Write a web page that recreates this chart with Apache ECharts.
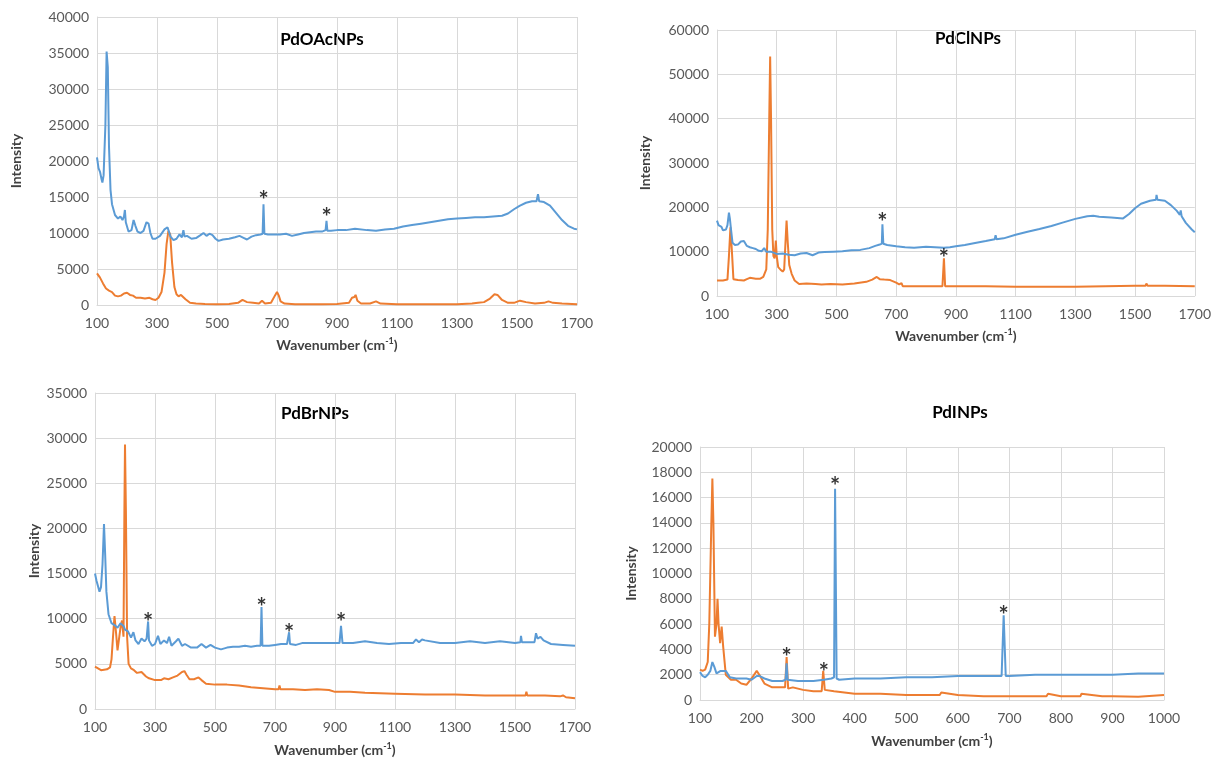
<!DOCTYPE html>
<html>
<head>
<meta charset="utf-8">
<script src="https://cdn.jsdelivr.net/npm/echarts@6/dist/echarts.min.js"></script>
<style>
  html, body { margin: 0; padding: 0; background: #fff; }
  #chart { width: 1214px; height: 761px; }
</style>
</head>
<body>
<div id="chart"></div>
<script>
// panel titles
const titles = ['PdOAcNPs', 'PdClNPs', 'PdBrNPs', 'PdINPs']

// PdOAcNPs
const oacBlue = [[100,20500],[105,19000],[110,18500],[115,17500],[118,17000],[122,18000],[128,25000],[132,35200],[136,33000],[140,22000],[145,16000],[150,14000],[155,14200],[160,12500],[170,12000],[178,12300],[185,11800],[190,12300],[193,13200],[196,11500],[205,10200],[215,10400],[222,11800],[228,11000],[235,10200],[245,10000],[255,10300],[265,11500],[272,11300],[278,10000],[285,9200],[295,9200],[310,9600],[325,10500],[335,10800],[345,9500],[355,9000],[365,9200],[375,9800],[383,9400],[388,10400],[392,9500],[400,9600],[415,9200],[430,9300],[445,9700],[455,10000],[465,9600],[475,9900],[485,9700],[495,9200],[505,8900],[520,9100],[540,9200],[560,9400],[575,9600],[590,9300],[600,9100],[615,9500],[630,9700],[645,9800],[652,9900],[655,14000],[658,9900],[670,9800],[690,9800],[710,9800],[730,9900],[750,9600],[770,9800],[790,10000],[810,10100],[830,10200],[850,10200],[862,10400],[865,11700],[868,10300],[880,10300],[900,10400],[930,10400],[960,10600],[1000,10400],[1030,10300],[1060,10500],[1090,10600],[1120,10900],[1150,11100],[1180,11300],[1210,11500],[1240,11700],[1270,11900],[1300,12000],[1330,12100],[1360,12200],[1390,12200],[1420,12300],[1450,12400],[1470,12700],[1490,13300],[1510,13800],[1530,14200],[1550,14400],[1565,14400],[1570,15400],[1574,14400],[1590,14300],[1610,13800],[1630,12800],[1650,11800],[1670,11000],[1690,10600],[1700,10500]]
const oacOrange = [[100,4400],[110,3800],[120,3000],[130,2300],[140,2000],[150,1800],[160,1300],[170,1200],[180,1300],[190,1600],[200,1700],[210,1400],[220,1300],[230,1000],[245,1000],[260,900],[275,1000],[285,800],[295,700],[305,1000],[315,1800],[325,4500],[332,8500],[338,10300],[344,9800],[350,6000],[358,2500],[365,1500],[372,1200],[380,1400],[385,1300],[395,800],[410,300],[430,200],[460,150],[500,100],[540,150],[570,300],[585,700],[600,400],[620,300],[640,200],[650,600],[660,200],[680,300],[693,1300],[700,1800],[706,1300],[712,500],[725,200],[760,100],[800,100],[850,100],[900,150],[940,300],[950,1000],[958,1100],[962,1400],[968,600],[980,200],[1010,200],[1030,500],[1045,200],[1100,100],[1200,100],[1300,100],[1350,200],[1370,300],[1390,400],[1410,900],[1425,1500],[1435,1400],[1450,700],[1470,300],[1490,300],[1510,600],[1530,400],[1560,200],[1590,300],[1605,500],[1620,300],[1650,200],[1700,100]]
const oacStars = [[655,14350],[865,12050]]

// PdClNPs
const clBlue = [[100,17000],[105,16000],[110,15800],[115,15600],[120,14800],[125,14500],[130,15000],[135,16000],[140,18800],[143,17500],[147,15000],[152,12000],[160,11500],[170,11600],[180,12300],[185,12600],[190,12400],[200,11300],[210,11000],[220,10800],[230,10600],[240,10200],[250,10100],[258,10800],[265,10000],[280,10000],[300,9500],[320,9600],[340,9300],[360,9200],[380,9600],[400,9700],[420,9200],[440,9800],[460,9900],[490,10000],[520,10100],[550,10300],[580,10400],[610,10800],[630,11300],[645,11600],[652,11800],[654,16200],[657,11800],[670,11500],[700,11200],[730,11000],[760,10900],[800,11100],[830,11000],[860,10900],[880,11000],[900,11200],[930,11500],[960,11900],[1000,12400],[1030,12800],[1033,13700],[1036,12800],[1060,13000],[1100,13800],[1140,14500],[1180,15100],[1220,15800],[1260,16600],[1300,17400],[1340,18000],[1360,18100],[1380,17900],[1420,17700],[1460,17500],[1480,18500],[1500,19800],[1520,20800],[1550,21500],[1570,21700],[1572,22800],[1575,21700],[1600,21500],[1620,20500],[1640,19200],[1650,18300],[1653,19300],[1656,18000],[1670,16500],[1690,15000],[1700,14400]]
const clOrange = [[100,3500],[120,3500],[135,3700],[140,9000],[145,15500],[150,10000],[155,3800],[170,3600],[190,3500],[200,3800],[210,4100],[230,3900],[245,3900],[255,4300],[265,6000],[270,15000],[275,40000],[278,54000],[281,40000],[285,15000],[289,9000],[293,8500],[297,12500],[300,9000],[305,6500],[312,6000],[320,5500],[325,6000],[330,13000],[333,17000],[337,12000],[342,7000],[350,5000],[360,3500],[375,2700],[400,2800],[430,2700],[450,2600],[480,2700],[520,2600],[560,2800],[600,3200],[620,3700],[635,4300],[645,3800],[660,3700],[680,3600],[700,3000],[710,2600],[715,2200],[718,2900],[722,2200],[760,2200],[800,2200],[855,2200],[860,8500],[864,2200],[900,2200],[1000,2200],[1100,2100],[1200,2100],[1300,2100],[1400,2200],[1500,2300],[1535,2300],[1538,2800],[1542,2300],[1600,2300],[1700,2200]]
const clStars = [[654,16300],[860,8300]]

// PdBrNPs
const brBlue = [[100,15000],[105,14200],[110,14000],[115,13000],[120,13500],[125,16000],[130,20500],[134,17000],[138,13000],[145,10500],[155,9500],[165,9300],[175,9000],[185,9500],[195,9200],[200,8800],[210,8600],[220,7900],[228,8500],[235,7600],[245,7200],[255,7800],[265,7500],[272,7800],[277,9700],[280,7600],[290,7000],[300,7200],[310,8100],[318,7200],[330,7600],[340,7300],[347,8000],[355,7000],[370,7500],[378,7800],[390,7000],[400,7200],[420,6800],[440,6800],[455,7200],[470,6800],[485,7100],[500,6800],[520,6600],[540,6800],[560,6900],[580,6900],[600,7000],[620,6900],[640,7000],[652,7000],[655,11300],[658,7000],[680,7000],[700,7100],[720,7200],[740,7200],[747,8500],[750,7200],[770,7100],[790,7300],[830,7300],[870,7300],[915,7300],[920,9200],[925,7300],[960,7300],[1000,7500],[1040,7300],[1080,7200],[1120,7300],[1160,7300],[1170,7700],[1180,7400],[1190,7700],[1200,7600],[1250,7300],[1300,7300],[1350,7500],[1400,7300],[1450,7500],[1500,7300],[1518,7400],[1520,8100],[1523,7400],[1550,7400],[1565,7400],[1570,8400],[1575,7800],[1585,8000],[1595,7600],[1620,7200],[1660,7100],[1700,7000]]
const brOrange = [[100,4700],[110,4500],[120,4300],[140,4400],[150,4600],[155,5500],[160,8000],[165,10300],[170,8500],[175,6500],[180,6500],[185,9000],[190,9800],[195,8000],[198,22000],[200,29300],[203,22000],[207,8000],[212,5000],[220,4500],[230,4300],[240,4000],[255,4100],[260,4200],[270,3600],[280,3400],[300,3200],[320,3200],[330,3400],[345,3300],[360,3500],[375,3700],[390,4100],[398,4200],[405,3800],[415,3300],[430,3300],[445,3500],[455,3200],[470,2800],[500,2700],[540,2700],[580,2600],[620,2400],[660,2300],[700,2200],[712,2200],[715,2600],[718,2200],[760,2200],[800,2100],[840,2200],[880,2100],[900,1900],[950,1900],[1000,1800],[1100,1700],[1200,1600],[1300,1600],[1400,1500],[1500,1500],[1535,1500],[1538,1900],[1541,1500],[1600,1500],[1650,1400],[1660,1500],[1670,1300],[1700,1200]]
const brStars = [[277,9500],[655,11200],[747,8300],[920,9500]]

// PdINPs
const iBlue = [[100,2200],[105,1900],[110,1800],[115,2000],[120,2300],[124,3000],[128,2600],[132,2100],[140,2300],[150,2300],[158,1800],[170,1700],[190,1700],[200,1600],[210,1900],[215,1900],[225,1700],[240,1500],[260,1500],[266,1600],[268,2900],[270,1600],[290,1500],[320,1500],[340,1600],[355,1700],[360,1800],[362,16700],[365,1700],[370,1600],[400,1700],[450,1700],[500,1800],[550,1800],[600,1900],[650,1900],[685,1900],[689,6700],[693,1900],[700,1900],[750,2000],[800,2000],[850,2000],[900,2000],[950,2100],[1000,2100]]
const iOrange = [[100,2400],[105,2300],[110,2400],[115,3000],[118,6000],[122,14000],[124,17500],[126,14000],[129,5000],[132,6000],[134,8000],[136,6000],[139,4500],[142,5800],[145,4200],[150,2000],[160,1600],[170,1600],[180,1300],[190,1200],[200,1700],[210,2300],[215,2000],[225,1300],[240,1000],[255,1000],[265,1000],[268,3400],[271,900],[280,1000],[300,800],[320,700],[336,700],[339,2300],[342,800],[360,700],[400,500],[450,500],[500,400],[550,400],[565,400],[568,600],[600,400],[650,300],[700,300],[772,300],[775,500],[800,300],[838,300],[840,500],[880,300],[900,300],[950,250],[1000,400]]
const iStars = [[268,3300],[340,2100],[362,16800],[689,6600]]

const blueData = [oacBlue, clBlue, brBlue, iBlue]
const orangeData = [oacOrange, clOrange, brOrange, iOrange]
const starData = [oacStars, clStars, brStars, iStars]

// plot layout of the four panels
const grids = [
  { left: 97, top: 17, width: 480, height: 288 },
  { left: 717, top: 30, width: 481, height: 266 },
  { left: 95, top: 393, width: 480, height: 316 },
  { left: 700, top: 447, width: 464, height: 253 }
]
const xRanges = [[100, 1700, 200], [100, 1700, 200], [100, 1700, 200], [100, 1000, 100]]
const yRanges = [[0, 40000, 5000], [0, 60000, 10000], [0, 35000, 5000], [0, 20000, 2000]]
const titlePos = [[322, 40], [968, 39], [315, 414], [960, 413]]
const yNameGap = [74, 65, 54, 62]
const xNameGap = [32, 32, 33, 33]

const FONT = 'Lato, "Open Sans", sans-serif'
const gridColor = '#d9d9d9'
const labelColor = '#595959'

const chart = echarts.init(document.getElementById('chart'))

const xAxes = grids.map((g, i) => ({
  type: 'value',
  gridIndex: i,
  min: xRanges[i][0],
  max: xRanges[i][1],
  interval: xRanges[i][2],
  name: '{a|Wavenumber (cm}{s|-1}{a|)}',
  nameLocation: 'middle',
  nameGap: xNameGap[i],
  nameTextStyle: {
    rich: {
      a: { fontFamily: FONT, fontSize: 14, fontWeight: 'bold', color: '#404040' },
      s: { fontFamily: FONT, fontSize: 9, fontWeight: 'bold', color: '#404040', padding: [0, 0, 8, 0] }
    }
  },
  axisLine: { show: true, lineStyle: { color: gridColor, width: 1 } },
  axisTick: { show: false },
  axisLabel: { color: labelColor, fontFamily: FONT, fontSize: 14, margin: 11, formatter: v => String(v) },
  splitLine: { show: true, lineStyle: { color: gridColor, width: 1 } }
}))

const yAxes = grids.map((g, i) => ({
  type: 'value',
  gridIndex: i,
  min: yRanges[i][0],
  max: yRanges[i][1],
  interval: yRanges[i][2],
  name: 'Intensity',
  nameLocation: 'middle',
  nameGap: yNameGap[i],
  nameTextStyle: { fontFamily: FONT, fontSize: 14, fontWeight: 'bold', color: '#404040' },
  axisLine: { show: true, lineStyle: { color: gridColor, width: 1 } },
  axisTick: { show: false },
  axisLabel: { color: labelColor, fontFamily: FONT, fontSize: 14, margin: 8, formatter: v => String(v) },
  splitLine: { show: true, lineStyle: { color: gridColor, width: 1 } }
}))

const series = []
grids.forEach((g, i) => {
  series.push({
    type: 'line',
    xAxisIndex: i,
    yAxisIndex: i,
    data: blueData[i],
    showSymbol: false,
    lineStyle: { color: '#5b9bd5', width: 2 },
    z: 3
  })
  series.push({
    type: 'line',
    xAxisIndex: i,
    yAxisIndex: i,
    data: orangeData[i],
    showSymbol: false,
    lineStyle: { color: '#ed7d31', width: 2 },
    z: 2
  })
  // asterisks marking peaks
  series.push({
    type: 'scatter',
    xAxisIndex: i,
    yAxisIndex: i,
    data: starData[i],
    symbolSize: 1,
    itemStyle: { color: 'rgba(0,0,0,0)' },
    label: {
      show: true,
      position: 'inside',
      formatter: '*',
      fontFamily: FONT,
      fontSize: 24,
      fontWeight: 'bold',
      color: '#000'
    },
    z: 4
  })
})

const graphics = titles.map((t, i) => ({
  type: 'text',
  x: titlePos[i][0],
  y: titlePos[i][1],
  style: {
    text: t,
    fontFamily: FONT,
    fontSize: 17,
    fontWeight: 'bold',
    fill: '#000',
    align: 'center',
    verticalAlign: 'middle'
  }
}))

chart.setOption({
  backgroundColor: '#fff',
  animation: false,
  grid: grids,
  xAxis: xAxes,
  yAxis: yAxes,
  series: series,
  graphic: graphics
})
</script>
</body>
</html>
